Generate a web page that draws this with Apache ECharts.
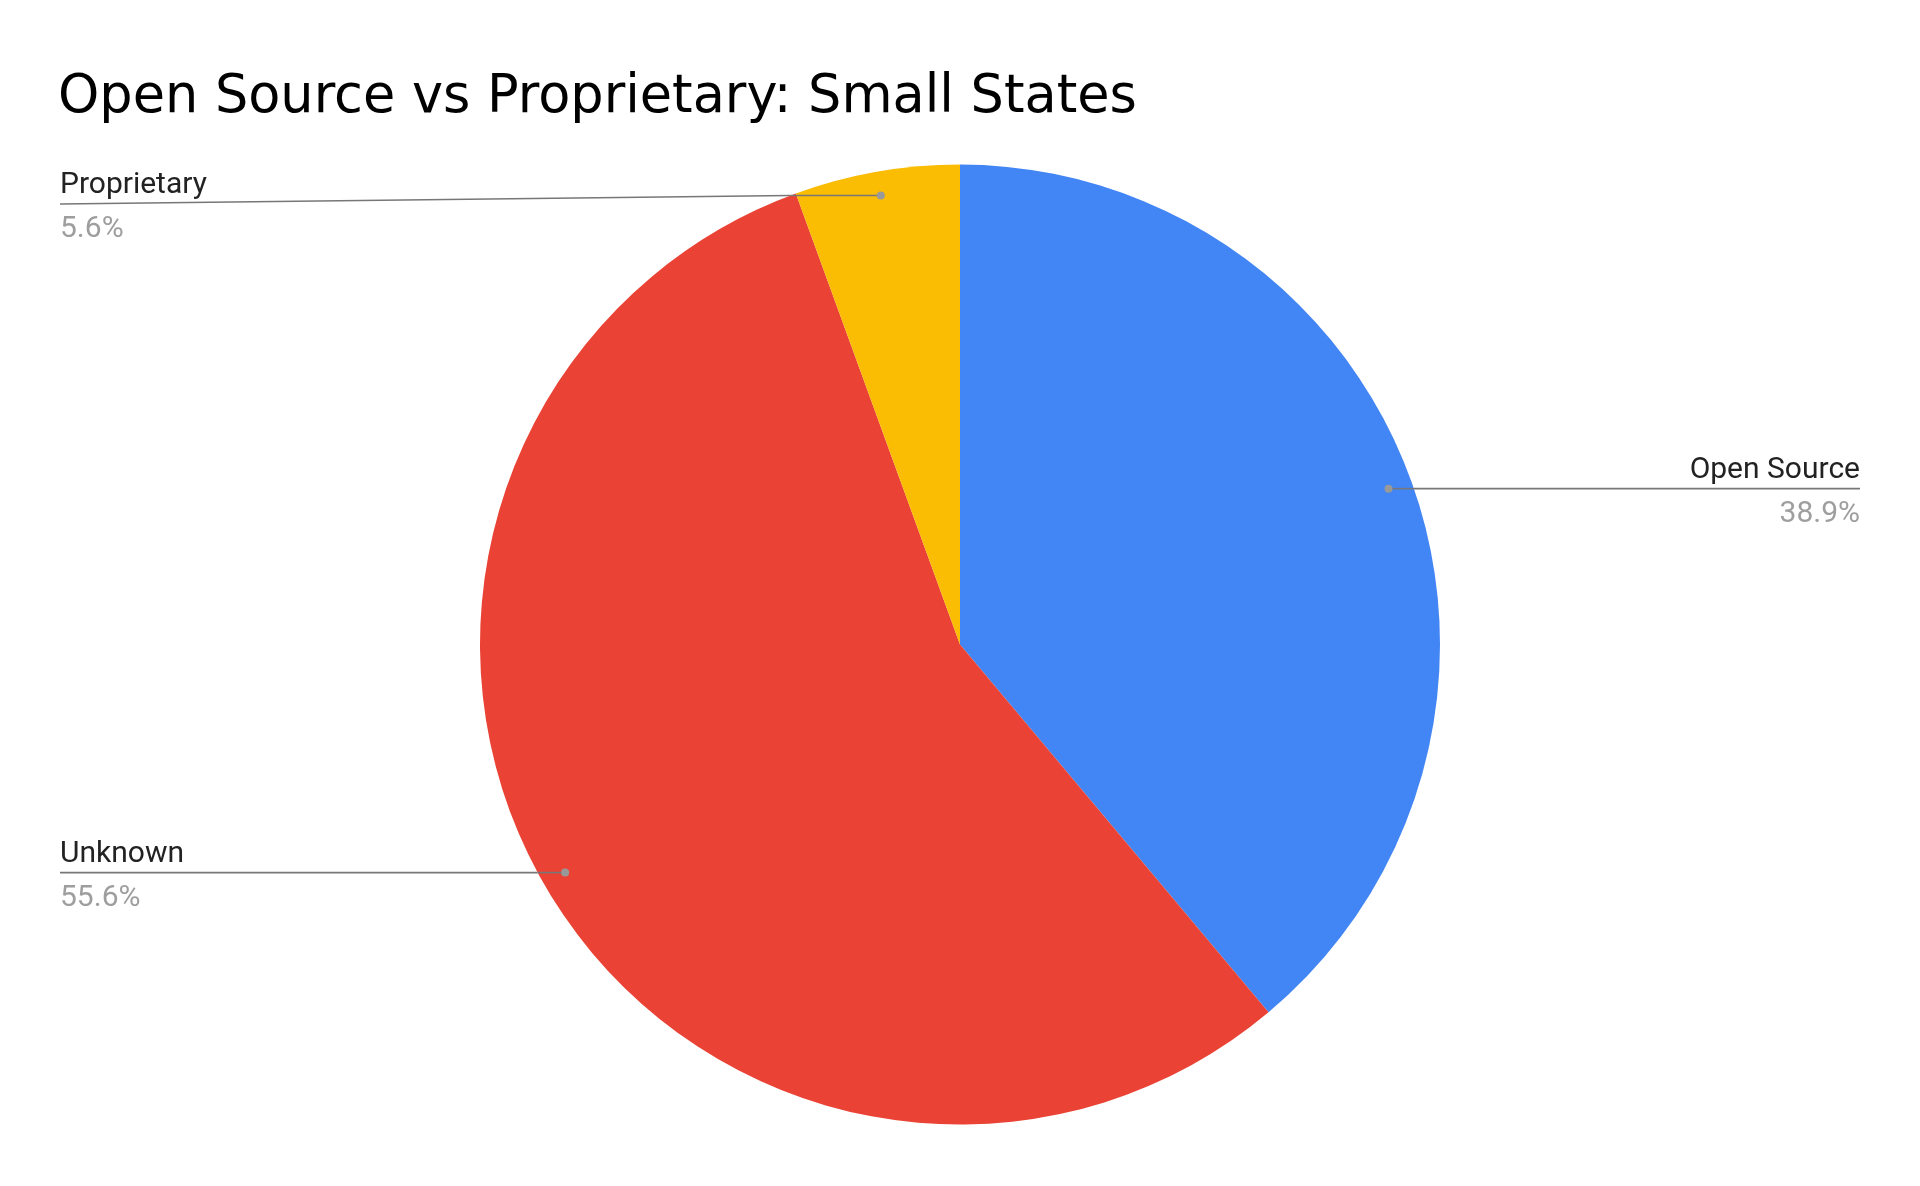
<!DOCTYPE html>
<html>
<head>
    <meta charset="utf-8">
    <title>Open Source vs Proprietary: Small States</title>
    <script src="https://cdn.jsdelivr.net/npm/echarts@6/dist/echarts.min.js"></script>
    <style>
        html, body { margin: 0; padding: 0; background: #fff; }
        #chartmain { width: 1920px; height: 1186px; }
    </style>
</head>
<body>
<div id="chartmain"></div>
<script>
    // data (18 states in total)
    var categories = ['Open Source', 'Unknown', 'Proprietary'];
    var counts = [7, 10, 1];
    var colors = ['#4285f4', '#ea4335', '#fbbc04'];
    var total = counts.reduce(function (a, b) { return a + b; }, 0);

    var EDGE = 60;          // labels hug the page edges
    var DOT_AT = 0.95;      // dot sits just inside the rim
    var MIN_LABEL_Y = 204;  // keep labels clear of the title
    var TEXT_NUDGE = 3.5;   // text block sits a touch below its line
    var LINE_COLOR = '#777';

    var myChart = echarts.init(document.getElementById('chartmain'));

    // where the dot of slice i sits, from the pie's own layout
    function sliceInfo(i) {
        var lay = myChart.getModel().getSeriesByIndex(0).getData().getItemLayout(i);
        var mid = (lay.startAngle + lay.endAngle) / 2;
        var dot = [lay.cx + Math.cos(mid) * lay.r * DOT_AT, lay.cy + Math.sin(mid) * lay.r * DOT_AT];
        var left = dot[0] < lay.cx;
        var dy = dot[1] - lay.cy;
        var rimX = lay.cx + (left ? -1 : 1) * Math.sqrt(Math.max(lay.r * lay.r - dy * dy, 0));
        return {left: left, dot: dot, rim: [rimX, dot[1]]};
    }

    var option = {
        animation: false,
        backgroundColor: '#fff',
        title: {
            text: 'Open Source vs Proprietary: Small States',
            left: 58,
            top: 72,
            padding: 0,
            textStyle: {
                fontFamily: 'DejaVu Sans',
                fontSize: 52.5,
                fontWeight: 'normal',
                color: '#000'
            }
        },
        series: [
            {
                name: 'Small States',
                type: 'pie',
                radius: 480,
                center: ['50%', '54.35%'],
                startAngle: 90,
                clockwise: true,
                avoidLabelOverlap: false,
                color: colors,
                data: categories.map(function (c, i) {
                    return {name: c, value: counts[i]};
                }),
                label: {
                    show: true,
                    position: 'outside',
                    formatter: function (p) {
                        return '{n|' + p.name + '}\n{p|' + (p.value / total * 100).toFixed(1) + '%}';
                    },
                    rich: {
                        n: {fontFamily: 'Roboto', fontSize: 30, color: '#222', lineHeight: 44},
                        p: {fontFamily: 'Roboto', fontSize: 30, color: '#9e9e9e', lineHeight: 44}
                    }
                },
                labelLine: {
                    show: true,
                    lineStyle: {color: LINE_COLOR, width: 1.6}
                },
                labelLayout: function (p) {
                    var s = sliceInfo(p.dataIndex);
                    var x = s.left ? EDGE : myChart.getWidth() - EDGE;
                    var y = Math.max(s.dot[1], MIN_LABEL_Y);
                    return {
                        x: x,
                        y: y + TEXT_NUDGE,
                        align: s.left ? 'left' : 'right',
                        verticalAlign: 'middle',
                        labelLinePoints: [s.rim, [x, y]]
                    };
                },
                itemStyle: {borderWidth: 0},
                emphasis: {disabled: true}
            }
        ]
    };
    myChart.setOption(option);

    // inner part of each label line (over the slice) and its grey dot
    var marks = [];
    counts.forEach(function (v, i) {
        var s = sliceInfo(i);
        marks.push({
            type: 'polyline',
            z: 100,
            shape: {points: [s.dot, s.rim]},
            style: {stroke: LINE_COLOR, lineWidth: 1.6, fill: null}
        });
        marks.push({
            type: 'circle',
            z: 101,
            shape: {cx: s.dot[0], cy: s.dot[1], r: 4},
            style: {fill: '#999'}
        });
    });
    myChart.setOption({graphic: marks});
</script>
</body>
</html>
